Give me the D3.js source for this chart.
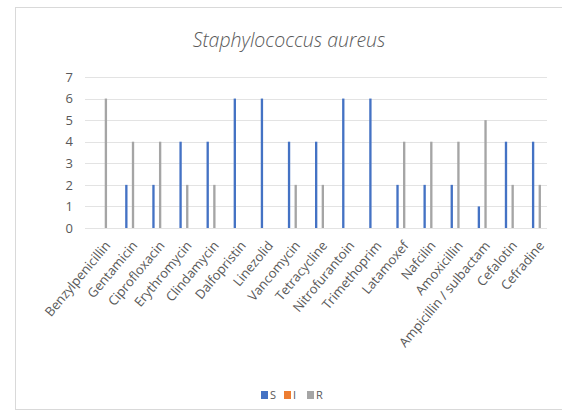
<!DOCTYPE html>
<html>
<head>
<meta charset="utf-8">
<script src="https://cdn.jsdelivr.net/npm/d3@7/dist/d3.min.js"></script>
<style>
  html, body { margin: 0; padding: 0; background: #fff; }
  svg { display: block; }
  text { font-family: "Open Sans", "Liberation Sans", sans-serif; fill: #595959; }
</style>
</head>
<body>
<script>
// Susceptibility profile of Staphylococcus aureus isolates
const categories = [
  "Benzylpenicillin", "Gentamicin", "Ciprofloxacin", "Erythromycin", "Clindamycin",
  "Dalfopristin", "Linezolid", "Vancomycin", "Tetracycline", "Nitrofurantoin",
  "Trimethoprim", "Latamoxef", "Nafcilin", "Amoxicillin", "Ampicillin / sulbactam",
  "Cefalotin", "Cefradine"
];
const seriesNames = ["S", "I", "R"];
const valuesS = [0, 2, 2, 4, 4, 6, 6, 4, 4, 6, 6, 2, 2, 2, 1, 4, 4];
const valuesI = [0, 0, 0, 0, 0, 0, 0, 0, 0, 0, 0, 0, 0, 0, 0, 0, 0];
const valuesR = [6, 4, 4, 2, 2, 0, 0, 2, 2, 0, 0, 4, 4, 4, 5, 2, 2];
const yTicks = [0, 1, 2, 3, 4, 5, 6, 7];
const colors = { S: "#4472C4", I: "#ED7D31", R: "#A5A5A5" };

const W = 562, H = 415;
const svg = d3.select("body").append("svg").attr("width", W).attr("height", H);

// chart frame
svg.append("rect")
  .attr("x", 15.5).attr("y", 7.5).attr("width", 560).attr("height", 402)
  .attr("fill", "#fff").attr("stroke", "#d9d9d9").attr("stroke-width", 1);

const plot = { left: 89, right: 550, top: 77, bottom: 228 };

const x = d3.scaleBand().domain(categories).range([plot.left, plot.right]).padding(0);
const y = d3.scaleLinear().domain([0, 7]).range([plot.bottom, plot.top]);
// the three bars of a category sit in a narrow cluster around its centre
const inner = d3.scaleBand().domain(seriesNames).range([-4.5, 4.5]).paddingInner(0.3);

// gridlines
svg.append("g")
  .selectAll("line").data(yTicks).join("line")
  .attr("x1", plot.left - 4).attr("x2", plot.right - 3)
  .attr("y1", d => Math.round(y(d)) + 0.5).attr("y2", d => Math.round(y(d)) + 0.5)
  .attr("stroke", "#e3e3e3").attr("stroke-width", 1);

// y axis labels
const yAxis = d3.axisLeft(y).tickValues(yTicks).tickSize(0).tickPadding(0).tickFormat(d3.format("d"));
const gy = svg.append("g").attr("transform", `translate(${plot.left - 16},0)`).call(yAxis);
gy.select(".domain").remove();
gy.selectAll("text").attr("font-size", 13).style("fill", "#595959")
  .style("font-family", '"Open Sans", "Liberation Sans", sans-serif');

// bars
const rows = categories.map((c, i) => ({ c, S: valuesS[i], I: valuesI[i], R: valuesR[i] }));
const groups = svg.append("g").selectAll("g").data(rows).join("g")
  .attr("transform", d => `translate(${x(d.c) + x.bandwidth() / 2},0)`);
groups.selectAll("rect")
  .data(d => seriesNames.map(k => ({ k, v: d[k] })))
  .join("rect")
  .attr("x", d => inner(d.k))
  .attr("width", inner.bandwidth())
  .attr("y", d => y(d.v))
  .attr("height", d => y(0) - y(d.v))
  .attr("fill", d => colors[d.k]);

// x axis labels
const xAxis = d3.axisBottom(x).tickSize(0).tickPadding(0);
const gx = svg.append("g").attr("transform", `translate(5,${plot.bottom + 15})`).call(xAxis);
gx.select(".domain").remove();
gx.selectAll("text")
  .attr("font-size", 13)
  .style("fill", "#595959")
  .style("font-family", '"Open Sans", "Liberation Sans", sans-serif')
  .attr("text-anchor", "end")
  .attr("dy", "0.35em")
  .attr("transform", "rotate(-50)");

// title
svg.append("text")
  .attr("x", 289).attr("y", 47)
  .attr("text-anchor", "middle")
  .attr("font-size", 19.5)
  .attr("font-style", "italic")
  .style("font-weight", 300)
  .text("Staphylococcus aureus");

// legend
const legend = svg.append("g").attr("transform", "translate(261,395)");
const items = legend.selectAll("g").data(seriesNames).join("g")
  .attr("transform", (d, i) => `translate(${i * 23},0)`);
items.append("rect").attr("x", 0).attr("y", -4).attr("width", 7).attr("height", 8)
  .attr("fill", d => colors[d]);
items.append("text").attr("x", 9).attr("y", 4).attr("font-size", 11).text(d => d);
</script>
</body>
</html>
